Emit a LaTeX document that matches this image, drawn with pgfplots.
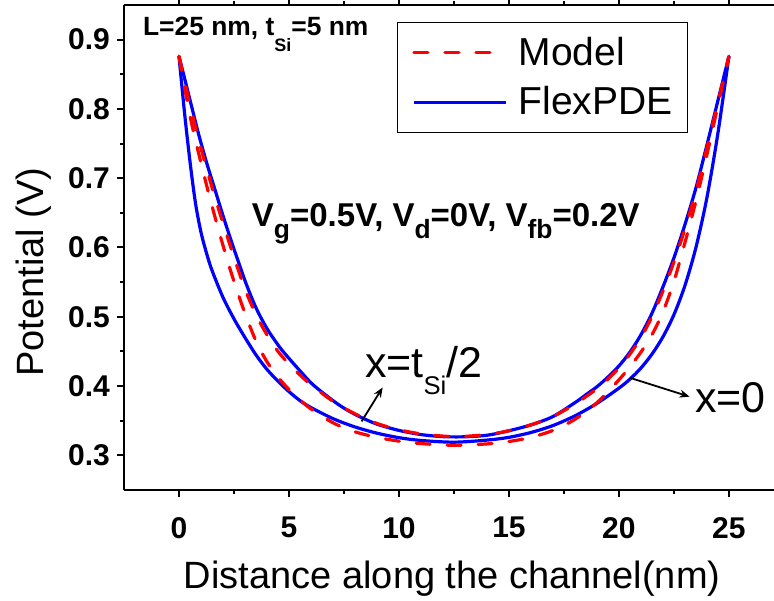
\documentclass[border=0pt]{standalone}
\usepackage{pgfplots}
\pgfplotsset{compat=1.18}
\usepackage{fontspec}
\setmainfont{Liberation Sans}
\usetikzlibrary{calc,arrows.meta}

\pgfplotstableread{
x y
0 0.876
0.25 0.795
0.5 0.724
0.75 0.664
1.0 0.622
1.25 0.592
1.5 0.567
2.0 0.528
2.5 0.497
3.0 0.470
3.5 0.445
4.0 0.424
4.5 0.407
5.0 0.392
5.5 0.379
6.0 0.369
7.0 0.353
8.0 0.341
9.0 0.332
10.0 0.3255
11.0 0.3215
12.5 0.319
14.0 0.322
15.0 0.326
16.0 0.333
17.0 0.343
18.0 0.357
19.0 0.375
20.0 0.397
20.5 0.410
21.0 0.426
21.5 0.446
22.0 0.471
22.5 0.503
23.0 0.545
23.5 0.600
24.0 0.672
24.5 0.765
25.0 0.876
}\flexA

\pgfplotstableread{
x y
0 0.876
0.12 0.861
0.5 0.813
0.88 0.765
1.25 0.723
1.64 0.683
2.0 0.646
2.4 0.607
2.76 0.574
3.06 0.547
3.5 0.513
4.0 0.483
4.58 0.456
5.0 0.440
5.5 0.422
6.09 0.402
7.0 0.379
7.61 0.366
8.2 0.356
9.0 0.345
10.0 0.336
11.0 0.330
12.0 0.327
13.0 0.3268
14.0 0.329
15.0 0.3355
16.0 0.344
17.0 0.356
18.0 0.376
18.5 0.3875
19.0 0.399
19.5 0.413
20.0 0.429
20.5 0.449
21.0 0.474
21.5 0.505
22.0 0.543
22.5 0.585
23.0 0.633
23.5 0.686
24.0 0.748
24.5 0.812
25.0 0.876
}\flexB

\pgfplotstableread{
x y
0 0.876
0.5 0.790
1.0 0.722
1.5 0.660
2.0 0.603
2.5 0.551
3.0 0.505
3.5 0.465
4.0 0.435
4.5 0.413
5.0 0.395
5.5 0.380
6.0 0.367
7.0 0.347
8.0 0.334
9.0 0.326
10.0 0.3205
11.0 0.317
12.5 0.3145
14.0 0.3165
15.0 0.320
16.0 0.326
17.0 0.336
18.0 0.352
19.0 0.376
20.0 0.409
20.5 0.428
21.0 0.449
21.5 0.474
22.0 0.507
22.5 0.551
23.0 0.607
23.5 0.667
24.0 0.734
24.5 0.805
25.0 0.876
}\modelA

\pgfplotstableread{
x y
0 0.876
0.5 0.806
1.0 0.743
1.5 0.687
2.0 0.635
2.5 0.586
3.0 0.540
3.5 0.503
4.0 0.474
4.5 0.450
5.0 0.432
5.5 0.416
6.0 0.402
7.0 0.378
8.0 0.360
9.0 0.346
10.0 0.337
11.0 0.331
12.5 0.327
14.0 0.330
15.0 0.3355
16.0 0.344
17.0 0.356
18.0 0.374
19.0 0.396
19.5 0.410
20.0 0.426
20.5 0.446
21.0 0.470
21.5 0.500
22.0 0.537
22.5 0.579
23.0 0.627
23.5 0.681
24.0 0.744
24.5 0.809
25.0 0.876
}\modelB

\begin{document}
\begin{tikzpicture}
\begin{axis}[
  name=ax,
  scale only axis,
  width=325pt, height=242.5pt,
  xmin=-2.5, xmax=27.05, ymin=0.25, ymax=0.95,
  separate axis lines,
  axis x line*=box, axis y line*=left,
  axis line style={line width=1pt, black},
  xtick={0,5,...,25}, ytick={0.3,0.4,0.5,0.6,0.7,0.8,0.9},
  minor x tick num=1, minor y tick num=1,
  tick align=outside,
  major tick length=3.5pt, minor tick length=2pt,
  every tick/.style={black, line width=1pt},
  ticklabel style={font=\bfseries\fontsize{15}{15}\selectfont},
  /pgf/number format/assume math mode=true,
  xticklabel style={yshift=-6.5pt},
  yticklabel style={/pgf/number format/fixed, /pgf/number format/precision=1, /pgf/number format/fixed zerofill},
  xlabel={Distance along the channel(nm)},
  ylabel={Potential (V)},
  label style={font=\fontsize{19}{19}\selectfont},
  xlabel style={at={(axis description cs:0.505,-0.2021)}, anchor=base},
  ylabel style={at={(axis description cs:-0.1246,0.4495)}, anchor=base},
  legend style={at={(axis cs:9.9,0.926)}, anchor=north west, draw=black, line width=0.6pt,
    font=\fontsize{19.5}{19.5}\selectfont, inner xsep=7.5pt, inner ysep=7.5pt, row sep=9pt,
    column sep=5.5pt, nodes={inner sep=0pt}, cells={anchor=west}},
  legend image code/.code={\draw[#1] (0pt,0pt) -- (46pt,0pt);},
  clip=false,
]
\addlegendimage{red, line width=1.6pt, dash pattern=on 7pt off 8.5pt, line cap=round}
\addlegendentry{Model}
\addlegendimage{blue, line width=1.6pt}
\addlegendentry{FlexPDE}

\addplot[blue, line width=1.6pt, smooth, tension=0.5, forget plot] table[x=x,y=y] {\flexA};
\addplot[blue, line width=1.6pt, smooth, tension=0.5, forget plot] table[x=x,y=y] {\flexB};
\addplot[red, line width=1.6pt, smooth, tension=0.5, dash pattern=on 7pt off 8.5pt, line cap=round, forget plot] table[x=x,y=y] {\modelA};
\addplot[red, line width=1.6pt, smooth, tension=0.5, dash pattern=on 7pt off 8.5pt, line cap=round, forget plot] table[x=x,y=y] {\modelB};

\node[anchor=base west, inner sep=0pt, font=\bfseries\fontsize{13.2}{13.2}\selectfont] at (axis cs:-1.65,0.906)
  {L=25 nm, t\raisebox{-8pt}{\fontsize{9}{9}\selectfont Si}=5 nm};
\node[anchor=base west, inner sep=0pt, font=\bfseries\fontsize{16.5}{16.5}\selectfont] at (axis cs:3.3,0.630)
  {V\raisebox{-6pt}{\fontsize{13.2}{13.2}\selectfont g}=0.5V, V\raisebox{-6pt}{\fontsize{13.2}{13.2}\selectfont d}=0V, V\raisebox{-6pt}{\fontsize{13.2}{13.2}\selectfont fb}=0.2V};
\node[anchor=base west, inner sep=0pt, font=\fontsize{21.5}{21.5}\selectfont] at (axis cs:8.44,0.412)
  {x=t\raisebox{-8.5pt}{\fontsize{12.8}{12.8}\selectfont Si}/2};
\node[anchor=base west, inner sep=0pt, font=\fontsize{21.5}{21.5}\selectfont] at (axis cs:23.44,0.3617) {x=0};
\draw[-{Stealth[length=5pt,width=4pt]}, line width=0.9pt] (axis cs:8.3,0.349) -- (axis cs:9.26,0.398);
\draw[-{Stealth[length=5pt,width=4pt]}, line width=0.9pt] (axis cs:20.49,0.412) -- (axis cs:23.21,0.3847);
\end{axis}
\pgfresetboundingbox
\path[use as bounding box] ($(ax.south west)+(-62pt,-55.5pt)$) rectangle ($(ax.north east)+(0pt,2.5pt)$);
\end{tikzpicture}
\end{document}
